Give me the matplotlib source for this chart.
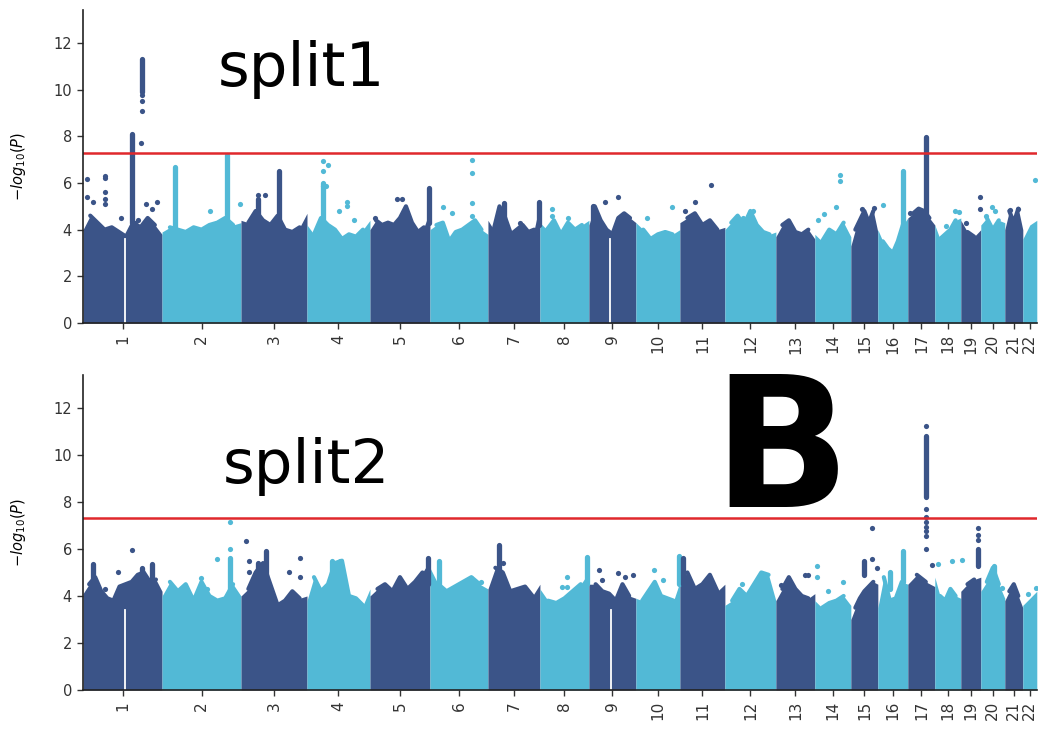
import matplotlib.pyplot as plt
import numpy as np

chroms = [str(i) for i in range(1, 23)]
# relative span of each chromosome on the x axis (SNP index units)
chrom_size = [79, 79, 66, 63, 60, 58, 52, 49, 47, 44, 45, 51, 39, 36, 27, 30, 27, 26, 20, 24, 18, 14]

threshold = 7.3
dark, light = "#3b5488", "#52b9d6"

# upper edge of the dense block of SNPs, read evenly along each chromosome
split1_body = [
    [4.0, 4.6, 4.3, 4.0, 4.1, 3.9, 3.7, 4.3, 4.1, 4.5, 4.2, 3.8],
    [3.9, 4.1, 4.0, 3.9, 4.1, 4.0, 4.2, 4.3, 4.5, 4.2, 4.3],
    [4.4, 4.3, 4.8, 4.4, 4.2, 4.6, 4.0, 3.9, 4.1, 4.7],
    [4.2, 3.8, 4.5, 4.2, 4.0, 3.6, 3.8, 3.7, 4.0, 4.4],
    [4.0, 4.4, 4.2, 4.3, 4.2, 4.5, 5.0, 4.3, 3.9, 4.1, 4.8],
    [4.0, 4.2, 4.3, 3.5, 3.9, 4.0, 4.2, 4.4, 4.0, 3.8],
    [4.4, 4.0, 5.0, 4.5, 3.8, 4.0, 4.2, 3.9, 4.0, 5.1],
    [4.3, 4.0, 4.4, 3.8, 4.3, 4.0, 4.2, 4.4],
    [4.2, 5.0, 4.4, 4.0, 3.8, 4.5, 4.7, 4.5, 4.3],
    [4.3, 4.0, 3.6, 3.8, 3.9, 3.8, 4.0],
    [4.3, 4.5, 4.7, 4.2, 4.4, 4.0, 4.1],
    [4.0, 4.3, 4.6, 4.2, 4.8, 4.2, 3.9, 3.8, 3.9],
    [3.7, 4.2, 4.4, 3.9, 3.8, 4.0, 3.6],
    [3.8, 3.5, 4.0, 3.8, 4.3, 3.7],
    [3.3, 4.0, 4.4, 4.8, 4.3, 4.8, 3.9],
    [4.0, 3.5, 3.2, 3.0, 3.5, 4.2, 4.5],
    [4.5, 4.7, 4.9, 4.8, 4.5, 4.2],
    [4.2, 3.6, 3.8, 4.0, 4.4, 4.5],
    [4.4, 3.9, 3.7, 4.0],
    [4.2, 4.5, 4.0, 4.4, 4.3],
    [4.0, 4.8, 4.3, 4.9, 4.0],
    [3.6, 4.2, 4.4],
]
split2_body = [
    [4.1, 4.5, 4.8, 4.2, 3.9, 3.8, 4.4, 4.5, 4.6, 4.9, 5.0, 4.6, 4.7, 4.2],
    [4.0, 4.6, 4.2, 4.5, 3.8, 4.6, 4.0, 3.8, 3.9, 4.5, 4.0],
    [4.0, 4.3, 5.0, 5.4, 4.5, 3.6, 3.8, 4.2, 3.9, 4.0],
    [3.8, 4.8, 4.2, 4.5, 5.4, 5.5, 4.0, 3.9, 3.6, 4.3],
    [4.0, 4.3, 4.5, 4.2, 4.8, 4.3, 4.6, 5.0, 5.5],
    [5.2, 4.5, 4.2, 4.4, 4.6, 4.8, 4.5, 4.3],
    [4.3, 5.2, 5.0, 4.2, 4.3, 4.4, 4.0, 4.5],
    [4.3, 3.8, 3.7, 3.9, 4.2, 4.5, 5.0],
    [4.5, 4.5, 4.2, 4.1, 3.8, 4.5, 4.0, 3.9],
    [3.9, 3.8, 4.2, 4.6, 4.0, 3.9, 3.8, 4.6],
    [4.6, 5.0, 4.3, 4.5, 4.9, 4.2, 4.5],
    [3.6, 3.8, 4.3, 4.0, 4.5, 5.0, 4.9, 3.8],
    [3.8, 4.3, 4.8, 4.3, 4.0, 3.9, 4.1],
    [3.8, 3.5, 3.7, 3.8, 4.0, 3.6],
    [3.0, 3.5, 3.9, 4.2, 4.4, 4.6, 4.5],
    [3.5, 4.8, 3.8, 3.9, 4.6, 4.5],
    [4.5, 4.9, 4.6, 4.4],
    [4.8, 4.0, 3.8, 4.3, 4.0, 3.9],
    [4.2, 4.5, 4.7, 4.8],
    [4.2, 4.6, 5.2, 4.5, 3.9],
    [3.8, 4.2, 4.5, 4.0, 3.5],
    [3.6, 3.9, 4.2],
]

# centromere gaps: (chromosome, position in chromosome, top of gap)
split1_gaps = [(1, 41.5, 3.6), (9, 21, 3.6)]
split2_gaps = [(1, 42, 3.4), (9, 21.7, 3.4)]

# dense runs of SNPs: (chromosome, position, low, high)
split1_columns = [
    (1, 48.7, 4.3, 8.1), (1, 58.7, 9.9, 11.3), (2, 13, 4.0, 6.7), (2, 65, 4.2, 7.2),
    (3, 17, 4.3, 5.3), (3, 38, 4.2, 6.5), (4, 16, 4.2, 6.0), (5, 59, 4.3, 5.8),
    (7, 16, 4.2, 5.15), (7, 51.5, 4.2, 5.2), (9, 4, 4.0, 5.0), (16, 25, 4.2, 6.5),
    (17, 17.7, 4.5, 7.95),
]
split2_columns = [
    (1, 10.3, 4.5, 5.35), (1, 58.7, 4.6, 5.2), (1, 68.7, 4.6, 5.35), (2, 68, 4.0, 5.6),
    (3, 17, 4.2, 5.4), (3, 25, 4.2, 5.9), (4, 25, 4.5, 5.5), (4, 33, 4.5, 5.5),
    (5, 58, 4.5, 5.6), (6, 9, 4.5, 5.47), (7, 10.7, 4.5, 6.17), (8, 46.7, 4.5, 5.67),
    (10, 43, 4.5, 5.7), (11, 3, 4.5, 5.6), (15, 13, 4.9, 5.5), (16, 12, 4.3, 5.04),
    (16, 24.7, 4.6, 5.9), (17, 17.7, 8.2, 10.8), (19, 17, 5.26, 6.0), (20, 13, 4.5, 5.28),
]

# single SNPs above the block: (chromosome, position, -log10 p)
split1_dots = [
    (1, 4, 6.15), (1, 4, 5.4), (1, 22, 6.3), (1, 22, 6.2), (1, 22, 5.6), (1, 22, 5.3),
    (1, 22, 5.1), (1, 10, 5.2), (1, 38, 4.5), (1, 58, 7.7), (1, 58.7, 9.1), (1, 58.7, 9.5),
    (1, 58.7, 9.75), (1, 62.7, 5.1), (1, 68.7, 4.9), (1, 74, 5.2), (1, 55, 4.4), (1, 52, 4.3),
    (2, 48, 4.8), (2, 78, 5.1), (3, 17, 5.5), (3, 24, 5.5),
    (4, 16, 6.93), (4, 16, 6.5), (4, 21, 6.78), (4, 19.5, 5.86), (4, 16, 5.86), (4, 40, 5.2),
    (4, 40, 5.0), (4, 32, 4.8), (4, 47, 4.4),
    (5, 5, 4.5), (5, 27, 5.3), (5, 31.7, 5.3),
    (6, 41.7, 7.0), (6, 41.7, 6.43), (6, 41.7, 5.15), (6, 41.7, 4.57), (6, 13, 4.96), (6, 21.7, 4.7),
    (7, 32, 4.3), (8, 11.7, 4.9), (8, 11.7, 4.6), (8, 28, 4.5), (9, 16, 5.2), (9, 29, 5.4),
    (10, 35.7, 4.97), (10, 11, 4.5), (11, 30.7, 5.9), (11, 15, 5.2), (11, 5, 4.8),
    (12, 28, 4.8), (12, 18, 4.5),
    (14, 25, 6.36), (14, 25, 6.07), (14, 21, 4.97), (14, 9, 4.67), (14, 3, 4.4),
    (15, 11, 4.88), (15, 23, 4.93), (16, 5, 5.04), (17, 2, 4.72),
    (18, 20, 4.8), (18, 24, 4.75), (18, 11, 4.16), (19, 19, 5.38), (19, 19, 4.9), (19, 5, 4.3),
    (20, 11, 4.97), (20, 14, 4.8), (20, 5, 4.57), (21, 5, 4.83), (21, 13, 4.88), (22, 12, 6.11),
]
split2_dots = [
    (1, 48.7, 5.96), (1, 35, 5.0), (1, 22, 4.3),
    (2, 55, 5.57), (2, 68, 7.13), (2, 68, 5.99), (2, 39, 4.76), (2, 45, 4.3),
    (3, 4.7, 6.32), (3, 8, 5.47), (3, 8, 5.0), (3, 48, 5.0), (3, 59, 5.6), (3, 59, 4.8),
    (6, 41, 4.76), (6, 51, 4.6), (7, 15, 5.4), (8, 27, 4.8), (8, 27, 4.4), (8, 22, 4.4),
    (9, 10, 5.1), (9, 13, 4.7), (9, 29, 4.97), (9, 36, 4.8), (9, 44, 4.88),
    (10, 18, 5.1), (10, 27, 4.7), (12, 17, 4.5),
    (13, 5, 4.48), (13, 29, 4.9), (13, 32, 4.9),
    (14, 2, 5.26), (14, 2, 4.8), (14, 13, 4.2), (14, 28, 4.6),
    (15, 21, 6.89), (15, 21, 5.58), (15, 26, 5.2), (16, 22, 4.2),
    (17, 17.7, 11.25), (17, 17.7, 7.72), (17, 17.7, 7.38), (17, 17.7, 7.15), (17, 17.7, 6.95),
    (17, 17.7, 6.75), (17, 17.7, 6.55), (17, 17.7, 6.0), (17, 24, 5.3),
    (18, 3.5, 5.36), (18, 17, 5.5), (18, 27, 5.53),
    (19, 17, 6.89), (19, 17, 6.6), (19, 17, 6.4),
    (20, 21, 4.33), (22, 5, 4.1), (22, 13, 4.33),
]

starts = np.concatenate([[0], np.cumsum(chrom_size)[:-1]])
total = sum(chrom_size)


def colour(c):
    return dark if c % 2 == 1 else light


def manhattan(ax, body, gaps, columns, dots, label, label_x, label_y):
    for i, tops in enumerate(body):
        x = starts[i] + np.linspace(0, chrom_size[i], len(tops))
        col = colour(i + 1)
        ax.fill_between(x, 0, tops, color=col, lw=0)
        ax.plot(x[1:-1], tops[1:-1], color=col, lw=3, solid_joinstyle="round", solid_capstyle="round")
    for c, p, top in gaps:
        ax.plot([starts[c - 1] + p] * 2, [0, top], color="white", lw=1.3)
    for c, p, lo, hi in columns:
        ax.plot([starts[c - 1] + p] * 2, [lo, hi], color=colour(c), lw=3.8, solid_capstyle="round")
    for c, p, y in dots:
        ax.scatter(starts[c - 1] + p, y, s=14, color=colour(c), lw=0)

    ax.axhline(threshold, color="#e0282c", lw=1.8)
    ax.set_xlim(0, total)
    ax.set_ylim(0, 13.4)
    ax.set_yticks(range(0, 13, 2))
    ax.set_xticks(starts + np.array(chrom_size) / 2)
    ax.set_xticklabels(chroms, rotation=90, fontsize=11)
    ax.tick_params(axis="y", labelsize=10.5)
    ax.tick_params(colors="#333333", length=4.5, width=1)
    ax.set_ylabel(r"$-log_{10}(P)$", fontsize=10.5, labelpad=18)
    for s in ["top", "right"]:
        ax.spines[s].set_visible(False)
    for s in ["left", "bottom"]:
        ax.spines[s].set_linewidth(1.2)
        ax.spines[s].set_color("#222222")
    ax.text(label_x, label_y, label, transform=ax.transAxes,
            fontsize=44, va="baseline", family="DejaVu Sans")


fig = plt.figure(figsize=(10.42, 7.30), dpi=100)
ax1 = fig.add_axes([0.0797, 0.5575, 0.9153, 0.4285])
ax2 = fig.add_axes([0.0797, 0.0548, 0.9153, 0.4315])

manhattan(ax1, split1_body, split1_gaps, split1_columns, split1_dots, "split1", 0.141, 0.757)
manhattan(ax2, split2_body, split2_gaps, split2_columns, split2_dots, "split2", 0.146, 0.657)

fig.text(0.684, 0.3055, "B", fontsize=130, fontweight="bold", family="DejaVu Sans", va="baseline")

fig.savefig("out.png", dpi=100)
